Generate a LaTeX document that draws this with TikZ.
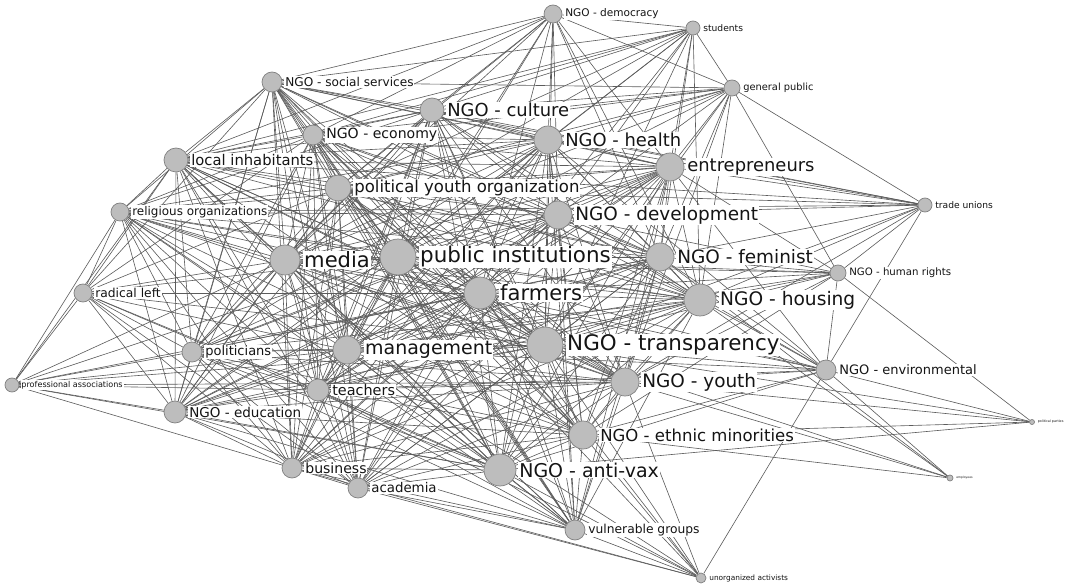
\documentclass[tikz,border=0pt]{standalone}
\usepackage{fontspec}
\setmainfont{DejaVu Sans}
\usepackage{tikz}
\usetikzlibrary{positioning, backgrounds}

\newcommand{\lblsize}[1]{\fontsize{#1}{#1}\selectfont}

\begin{document}
\begin{tikzpicture}[
        x=0.02cm, y=-0.02cm,
        vtx/.style={
            circle,
            draw=black!50,
            fill=black!26,
            line width=0.4pt,
            inner sep=0pt,
            minimum size=0.4mm*#1
        },
        lbl/.style={
            fill=white,
            inner sep=0.5pt,
            text=black!92
        },
        edge/.style={
            draw=black!64,
            line width=0.35pt
        }
    ]

    \useasboundingbox (0,0) rectangle (1075,584);

    % vertices
    \node[vtx=18] (pi) at (398,257) {};
    \node[vtx=18] (tr) at (545,345) {};
    \node[vtx=16] (ho) at (700,300) {};
    \node[vtx=16] (fa) at (480,293) {};
    \node[vtx=16] (av) at (500,470) {};
    \node[vtx=15] (me) at (285,260) {};
    \node[vtx=14] (ma) at (347,350) {};
    \node[vtx=14] (fe) at (660,257) {};
    \node[vtx=14] (yo) at (625,382) {};
    \node[vtx=14] (de) at (558,215) {};
    \node[vtx=14] (en) at (670,167) {};
    \node[vtx=14] (et) at (583,435) {};
    \node[vtx=14] (he) at (548,140) {};
    \node[vtx=13] (py) at (338,188) {};
    \node[vtx=12] (cu) at (432,110) {};
    \node[vtx=12] (li) at (176,160) {};
    \node[vtx=10] (ec) at (313,135) {};
    \node[vtx=10] (ss) at (272,82) {};
    \node[vtx=9] (ro) at (120,212) {};
    \node[vtx=9] (rl) at (83,293) {};
    \node[vtx=10] (po) at (192,352) {};
    \node[vtx=11] (te) at (318,390) {};
    \node[vtx=11] (ed) at (175,412) {};
    \node[vtx=10] (bu) at (292,468) {};
    \node[vtx=10] (ac) at (358,488) {};
    \node[vtx=10] (vg) at (575,530) {};
    \node[vtx=5] (ua) at (701,578) {};
    \node[vtx=10] (env) at (826,370) {};
    \node[vtx=8] (hr) at (838,273) {};
    \node[vtx=7] (tu) at (925,205) {};
    \node[vtx=8] (gp) at (732,88) {};
    \node[vtx=7] (st) at (693,28) {};
    \node[vtx=9] (dem) at (553,14) {};
    \node[vtx=7] (pa) at (12,385) {};
    \node[vtx=2.5] (pp) at (1032,422) {};
    \node[vtx=3] (em) at (950,478) {};

    % labels
    \node[lbl, font=\lblsize{12.2}, right=1.5pt of pi] (pil) {public institutions};
    \node[lbl, font=\lblsize{12.2}, right=1.5pt of tr] (trl) {NGO - transparency};
    \node[lbl, font=\lblsize{10.6}, right=1.5pt of ho] (hol) {NGO - housing};
    \node[lbl, font=\lblsize{12}, right=1.5pt of fa] (fal) {farmers};
    \node[lbl, font=\lblsize{10.8}, right=1pt of av] (avl) {NGO - anti-vax};
    \node[lbl, font=\lblsize{12}, right=1.5pt of me] (mel) {media};
    \node[lbl, font=\lblsize{10.8}, right=1.5pt of ma] (mal) {management};
    \node[lbl, font=\lblsize{10.5}, right=1pt of fe] (fel) {NGO - feminist};
    \node[lbl, font=\lblsize{10.5}, right=1pt of yo] (yol) {NGO - youth};
    \node[lbl, font=\lblsize{10.5}, right=1pt of de] (del) {NGO - development};
    \node[lbl, font=\lblsize{10.2}, right=1pt of en] (enl) {entrepreneurs};
    \node[lbl, font=\lblsize{9.4}, right=1pt of et] (etl) {NGO - ethnic minorities};
    \node[lbl, font=\lblsize{10.2}, right=1pt of he] (hel) {NGO - health};
    \node[lbl, font=\lblsize{9.4}, right=1pt of py] (pyl) {political youth organization};
    \node[lbl, font=\lblsize{10.2}, right=1pt of cu] (cul) {NGO - culture};
    \node[lbl, font=\lblsize{8.4}, right=1pt of li] (lil) {local inhabitants};
    \node[lbl, font=\lblsize{8}, right=1pt of ec] (ecl) {NGO - economy};
    \node[lbl, font=\lblsize{6.9}, right=1pt of ss] (ssl) {NGO - social services};
    \node[lbl, font=\lblsize{6.8}, right=1pt of ro] (rol) {religious organizations};
    \node[lbl, font=\lblsize{7}, right=1pt of rl] (rll) {radical left};
    \node[lbl, font=\lblsize{7.4}, right=1pt of po] (pol) {politicians};
    \node[lbl, font=\lblsize{8.2}, right=1pt of te] (tel) {teachers};
    \node[lbl, font=\lblsize{7.7}, right=1pt of ed] (edl) {NGO - education};
    \node[lbl, font=\lblsize{8}, right=1pt of bu] (bul) {business};
    \node[lbl, font=\lblsize{7.6}, right=1pt of ac] (acl) {academia};
    \node[lbl, font=\lblsize{7}, right=1pt of vg] (vgl) {vulnerable groups};
    \node[lbl, font=\lblsize{4.2}, right=1pt of ua] (ual) {unorganized activists};
    \node[lbl, font=\lblsize{7.4}, right=1pt of env] (envl) {NGO - environmental};
    \node[lbl, font=\lblsize{5.8}, right=1pt of hr] (hrl) {NGO - human rights};
    \node[lbl, font=\lblsize{5.2}, right=1pt of tu] (tul) {trade unions};
    \node[lbl, font=\lblsize{5.6}, right=1pt of gp] (gpl) {general public};
    \node[lbl, font=\lblsize{5.2}, right=1pt of st] (stl) {students};
    \node[lbl, font=\lblsize{6}, right=1pt of dem] (deml) {NGO - democracy};
    \node[lbl, font=\lblsize{4.6}, right=0.5pt of pa] (pal) {professional associations};
    \node[lbl, font=\lblsize{1.9}, right=1pt of pp] (ppl) {political parties};
    \node[lbl, font=\lblsize{1.7}, right=1pt of em] (eml) {employees};

    % edges
    \begin{scope}[on background layer]
        \def\core{pi,tr,ho,fa,av,me,ma,fe,yo,de,en,et,he,py,cu,li,ec,ss,ro,po,te,ed,bu,ac,vg}
        \foreach \a [count=\i] in \core {
            \foreach \b [count=\j] in \core {
                \ifnum\j>\i
                    \draw[edge] (\a) -- (\b);
                \fi
            }
        }

        \foreach \t in {st,ss,cu,ec,he,py,li,de,en,pi,me,fa,fe,ho,ma,tr,gp}
            \draw[edge] (dem) -- (\t);
        \foreach \t in {cu,he,en,de,py,ec,ss,fe,ho,tr,pi,fa,gp,li,me}
            \draw[edge] (st) -- (\t);
        \foreach \t in {en,he,de,fe,cu,py,ss,li,ec,tu,ho,tr,yo,hr,me,pi}
            \draw[edge] (gp) -- (\t);
        \foreach \t in {li,ro,de,en,he,fe,ho,hr,tr,py,cu,yo,env,ss}
            \draw[edge] (tu) -- (\t);
        \foreach \t in {fe,ho,fa,de,tr,en,pi,yo,env,et,me,ma}
            \draw[edge] (hr) -- (\t);
        \foreach \t in {tr,yo,et,ho,fe,ma,fa,pi,de,en,av,te,me,he}
            \draw[edge] (env) -- (\t);
        \foreach \t in {hr,yo,et,av,tr,env}
            \draw[edge] (pp) -- (\t);
        \foreach \t in {env,ho,fe,et,yo,tr}
            \draw[edge] (em) -- (\t);
        \foreach \t in {vg,av,et,yo,tr,env,ma,te,fa,ac,bu,pi}
            \draw[edge] (ua) -- (\t);
        \foreach \t in {ro,rl,li,po,ed,me,ma,te,tr,av,bu,yo,pi,fa}
            \draw[edge] (pa) -- (\t);
        \foreach \t in {li,ro,me,pi,po,ed,te,ma,ac,bu,fa,tr,av,ss,ec,py}
            \draw[edge] (rl) -- (\t);
    \end{scope}

\end{tikzpicture}
\end{document}
